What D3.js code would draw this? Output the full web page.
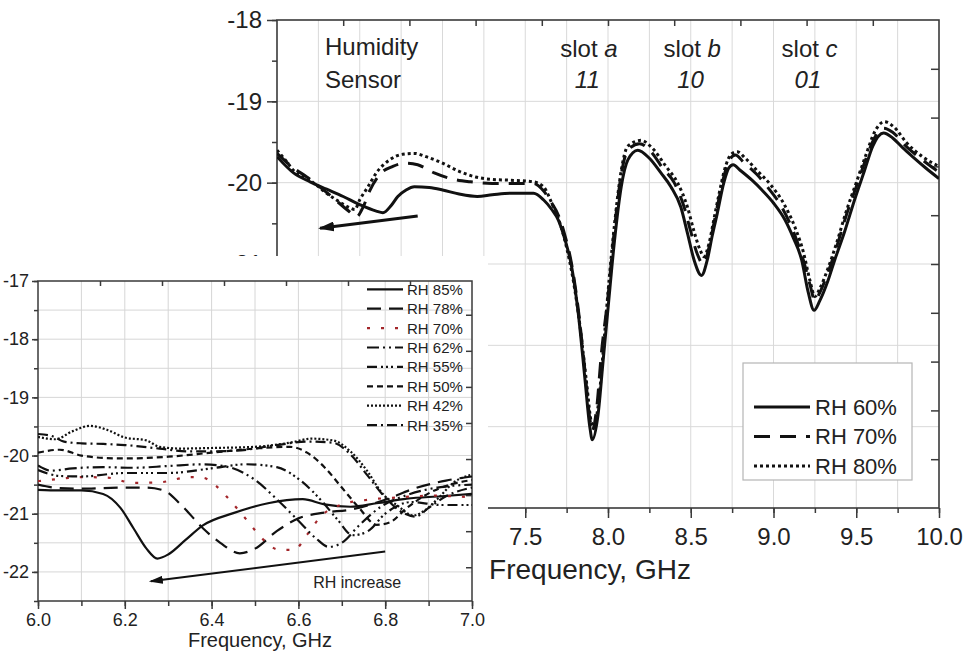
<!DOCTYPE html>
<html>
<head>
<meta charset="utf-8">
<script src="https://cdn.jsdelivr.net/npm/d3@7"></script>
<style>
  body { margin: 0; background: #fff; }
  svg { display: block; font-family: "Liberation Sans", Arial, sans-serif; }
</style>
</head>
<body>
<svg id="chart" width="969" height="657"></svg>
<script>
// ---- main chart data (frequency GHz, S21 dB) ----
const rh60 = [[6.0,-19.68],[6.1,-19.88],[6.2,-19.99],[6.3,-20.08],[6.4,-20.17],[6.5,-20.27],[6.6,-20.35],[6.64,-20.37],[6.69,-20.28],[6.73,-20.17],[6.78,-20.09],[6.83,-20.05],[6.92,-20.06],[7.0,-20.09],[7.1,-20.14],[7.21,-20.17],[7.3,-20.15],[7.41,-20.13],[7.55,-20.13],[7.61,-20.21],[7.66,-20.33],[7.70,-20.46],[7.74,-20.70],[7.78,-21.03],[7.82,-21.6],[7.86,-22.4],[7.89,-23.0],[7.905,-23.16],[7.94,-22.85],[7.97,-22.2],[8.0,-21.55],[8.04,-20.7],[8.08,-20.05],[8.12,-19.72],[8.18,-19.60],[8.25,-19.7],[8.32,-19.88],[8.38,-20.05],[8.44,-20.3],[8.48,-20.62],[8.52,-20.95],[8.565,-21.14],[8.6,-20.95],[8.63,-20.65],[8.66,-20.38],[8.70,-20.0],[8.73,-19.82],[8.756,-19.78],[8.8,-19.85],[8.87,-19.97],[8.93,-20.09],[9.0,-20.25],[9.07,-20.46],[9.12,-20.68],[9.17,-20.95],[9.21,-21.35],[9.245,-21.57],[9.28,-21.45],[9.33,-21.2],[9.37,-20.95],[9.43,-20.6],[9.49,-20.21],[9.55,-19.85],[9.6,-19.55],[9.665,-19.39],[9.72,-19.45],[9.78,-19.57],[9.84,-19.68],[9.92,-19.82],[10.0,-19.95]];
const rh70 = [[6.0,-19.64],[6.1,-19.82],[6.18,-19.93],[6.3,-20.12],[6.44,-20.36],[6.48,-20.42],[6.52,-20.3],[6.56,-20.1],[6.62,-19.9],[6.7,-19.8],[6.78,-19.76],[6.85,-19.78],[6.95,-19.88],[7.05,-19.95],[7.17,-19.99],[7.3,-20.01],[7.45,-20.01],[7.55,-20.01],[7.61,-20.1],[7.66,-20.25],[7.70,-20.4],[7.74,-20.65],[7.78,-21.0],[7.82,-21.55],[7.86,-22.3],[7.89,-22.9],[7.905,-23.05],[7.93,-22.8],[7.96,-22.1],[8.0,-21.4],[8.04,-20.55],[8.08,-19.9],[8.12,-19.6],[8.19,-19.52],[8.26,-19.62],[8.33,-19.82],[8.4,-20.0],[8.46,-20.3],[8.5,-20.6],[8.54,-20.88],[8.575,-21.0],[8.61,-20.8],[8.64,-20.5],[8.67,-20.2],[8.71,-19.85],[8.74,-19.7],[8.77,-19.66],[8.82,-19.75],[8.9,-19.9],[8.97,-20.07],[9.05,-20.3],[9.12,-20.6],[9.18,-20.95],[9.22,-21.25],[9.25,-21.45],[9.28,-21.35],[9.33,-21.1],[9.38,-20.8],[9.44,-20.4],[9.5,-20.05],[9.56,-19.7],[9.61,-19.45],[9.665,-19.33],[9.72,-19.38],[9.8,-19.55],[9.9,-19.72],[10.0,-19.87]];
const rh80 = [[6.0,-19.60],[6.05,-19.72],[6.1,-19.85],[6.2,-19.97],[6.3,-20.13],[6.38,-20.24],[6.44,-20.31],[6.47,-20.33],[6.5,-20.21],[6.55,-20.05],[6.6,-19.88],[6.68,-19.72],[6.76,-19.65],[6.83,-19.64],[6.9,-19.68],[7.0,-19.76],[7.1,-19.86],[7.2,-19.93],[7.3,-19.96],[7.41,-19.97],[7.55,-19.99],[7.61,-20.05],[7.67,-20.3],[7.71,-20.5],[7.75,-20.8],[7.79,-21.2],[7.83,-21.75],[7.87,-22.45],[7.9,-22.95],[7.915,-23.0],[7.94,-22.75],[7.97,-22.1],[8.0,-21.35],[8.04,-20.5],[8.08,-19.85],[8.12,-19.55],[8.2,-19.48],[8.27,-19.58],[8.35,-19.8],[8.42,-20.0],[8.48,-20.3],[8.52,-20.6],[8.555,-20.82],[8.58,-20.91],[8.61,-20.75],[8.64,-20.45],[8.67,-20.15],[8.71,-19.8],[8.745,-19.65],[8.78,-19.62],[8.83,-19.7],[8.9,-19.85],[8.98,-20.02],[9.06,-20.25],[9.13,-20.55],[9.18,-20.85],[9.22,-21.2],[9.25,-21.40],[9.28,-21.3],[9.33,-21.05],[9.38,-20.75],[9.44,-20.35],[9.5,-20.0],[9.56,-19.65],[9.61,-19.38],[9.67,-19.25],[9.73,-19.32],[9.8,-19.5],[9.9,-19.68],[10.0,-19.80]];
const mainNames = ["RH 60%", "RH 70%", "RH 80%"];
const slotLabels = [["slot ", "a", "11", 7.885], ["slot ", "b", "10", 8.509], ["slot ", "c", "01", 9.218]];

// ---- inset data ----
const ins85 = [[6.0,-20.59],[6.05,-20.6],[6.1,-20.6],[6.15,-20.66],[6.19,-20.9],[6.22,-21.25],[6.25,-21.6],[6.275,-21.77],[6.3,-21.7],[6.34,-21.45],[6.38,-21.2],[6.45,-20.99],[6.53,-20.82],[6.61,-20.75],[6.66,-20.84],[6.72,-20.88],[6.78,-20.82],[6.85,-20.74],[6.93,-20.7],[7.0,-20.66]];
const ins78 = [[6.0,-20.5],[6.05,-20.56],[6.1,-20.57],[6.15,-20.56],[6.2,-20.55],[6.25,-20.55],[6.29,-20.6],[6.33,-20.85],[6.38,-21.25],[6.42,-21.5],[6.465,-21.68],[6.5,-21.6],[6.55,-21.3],[6.6,-21.08],[6.66,-20.98],[6.72,-20.93],[6.8,-20.76],[6.87,-20.56],[6.94,-20.43],[7.0,-20.36]];
const ins70 = [[6.0,-20.44],[6.05,-20.4],[6.1,-20.37],[6.16,-20.38],[6.22,-20.47],[6.28,-20.46],[6.35,-20.37],[6.38,-20.38],[6.41,-20.52],[6.44,-20.75],[6.48,-21.1],[6.52,-21.45],[6.555,-21.62],[6.59,-21.62],[6.62,-21.36],[6.65,-21.06],[6.7,-20.84],[6.76,-20.76],[6.83,-20.72],[6.91,-20.69],[7.0,-20.72]];
const ins62 = [[6.0,-20.17],[6.03,-20.26],[6.08,-20.22],[6.15,-20.2],[6.22,-20.21],[6.3,-20.18],[6.38,-20.15],[6.44,-20.2],[6.5,-20.42],[6.55,-20.75],[6.6,-21.12],[6.64,-21.42],[6.67,-21.57],[6.7,-21.5],[6.74,-21.2],[6.79,-20.88],[6.85,-20.68],[6.92,-20.55],[7.0,-20.5]];
const ins55 = [[6.0,-20.25],[6.05,-20.35],[6.1,-20.36],[6.2,-20.3],[6.3,-20.3],[6.4,-20.22],[6.48,-20.15],[6.55,-20.2],[6.6,-20.4],[6.65,-20.75],[6.69,-21.1],[6.725,-21.37],[6.76,-21.3],[6.8,-21.0],[6.86,-20.8],[6.93,-20.85],[7.0,-20.85]];
const ins50 = [[6.0,-19.95],[6.05,-19.9],[6.1,-20.0],[6.15,-20.04],[6.2,-20.05],[6.3,-20.02],[6.4,-19.95],[6.5,-19.88],[6.58,-19.85],[6.62,-19.95],[6.66,-20.2],[6.7,-20.55],[6.74,-20.9],[6.78,-21.19],[6.81,-21.15],[6.85,-20.9],[6.9,-20.65],[6.95,-20.5],[7.0,-20.42]];
const ins42 = [[6.0,-19.68],[6.04,-19.72],[6.08,-19.58],[6.12,-19.49],[6.16,-19.56],[6.2,-19.69],[6.25,-19.74],[6.28,-19.85],[6.33,-19.88],[6.4,-19.87],[6.5,-19.85],[6.58,-19.78],[6.63,-19.71],[6.68,-19.74],[6.72,-19.93],[6.76,-20.28],[6.79,-20.62],[6.83,-20.87],[6.865,-21.03],[6.89,-20.95],[6.92,-20.75],[6.96,-20.45],[7.0,-20.33]];
const ins35 = [[6.0,-19.63],[6.03,-19.66],[6.06,-19.76],[6.1,-19.79],[6.15,-19.8],[6.2,-19.82],[6.28,-19.88],[6.35,-19.93],[6.45,-19.92],[6.55,-19.82],[6.62,-19.76],[6.68,-19.78],[6.72,-19.98],[6.76,-20.35],[6.8,-20.72],[6.84,-20.98],[6.87,-21.05],[6.9,-20.9],[6.94,-20.7],[7.0,-20.55]];
const insNames = ["RH 85%", "RH 78%", "RH 70%", "RH 62%", "RH 55%", "RH 50%", "RH 42%", "RH 35%"];

const svg = d3.select("#chart");
const txt = "#222";
const plain = d => String(d);           // keep ASCII hyphen-minus like the original
const oneDec = d => d.toFixed(1);

// ============ main chart ============
const M = {left: 277, right: 939, top: 20, bottom: 508};
const x = d3.scaleLinear().domain([6, 10]).range([M.left, M.right]);
const y = d3.scaleLinear().domain([-24, -18]).range([M.bottom, M.top]);

const defs = svg.append("defs");
defs.append("clipPath").attr("id", "clipMain")
  .append("rect").attr("x", M.left).attr("y", M.top)
  .attr("width", M.right - M.left).attr("height", M.bottom - M.top);

const grid = svg.append("g").attr("stroke", "#d9d9d9").attr("stroke-width", 1);
grid.selectAll(".vx").data(d3.range(6.25, 9.9, 0.25)).join("line")
  .attr("x1", d => x(d)).attr("x2", d => x(d)).attr("y1", M.top).attr("y2", M.bottom);
grid.selectAll(".hy").data(d3.range(-23, -18, 1)).join("line")
  .attr("y1", d => y(d)).attr("y2", d => y(d)).attr("x1", M.left).attr("x2", M.right);

// axes
const axisCol = "#3a3a3a";
function styleAxis(g, fs) {
  g.select(".domain").remove();
  g.selectAll("line").attr("stroke", axisCol).attr("stroke-width", 1.5);
  g.selectAll("text").attr("fill", txt).attr("font-size", fs);
}
svg.append("g").attr("transform", `translate(0,${M.bottom})`)
  .call(d3.axisBottom(x).tickValues(d3.range(6, 10.01, 0.25)).tickSize(5).tickFormat(""))
  .call(g => styleAxis(g, 0));
svg.append("g").attr("transform", `translate(0,${M.bottom})`)
  .call(d3.axisBottom(x).tickValues(d3.range(6, 10.01, 0.5)).tickSize(10).tickPadding(10).tickFormat(oneDec))
  .call(g => styleAxis(g, 24));
svg.append("g").attr("transform", `translate(${M.left},0)`)
  .call(d3.axisLeft(y).tickValues(d3.range(-24, -17.9, 0.5)).tickSize(5).tickFormat(""))
  .call(g => styleAxis(g, 0));
svg.append("g").attr("transform", `translate(${M.left},0)`)
  .call(d3.axisLeft(y).tickValues(d3.range(-24, -17.9, 1)).tickSize(10).tickPadding(5).tickFormat(plain))
  .call(g => styleAxis(g, 24));
// mirrored ticks top / right
svg.append("g").attr("transform", `translate(0,${M.top})`)
  .call(d3.axisBottom(x).tickValues(d3.range(6.4, 9.9, 0.4)).tickSize(6).tickFormat(""))
  .call(g => styleAxis(g, 0));
svg.append("g").attr("transform", `translate(${M.right},0)`)
  .call(d3.axisLeft(y).tickValues(d3.range(-18.6, -23.9, -0.6)).tickSize(8).tickFormat(""))
  .call(g => styleAxis(g, 0));
svg.append("rect").attr("x", M.left).attr("y", M.top)
  .attr("width", M.right - M.left).attr("height", M.bottom - M.top)
  .attr("fill", "none").attr("stroke", axisCol).attr("stroke-width", 1.6);

const lineMain = d3.line().x(d => x(d[0])).y(d => y(d[1])).curve(d3.curveMonotoneX);
const mainSeries = [
  {data: rh60, dash: null},
  {data: rh70, dash: "16,10"},
  {data: rh80, dash: "3,3"}
];
svg.append("g").attr("clip-path", "url(#clipMain)")
  .selectAll("path").data(mainSeries).join("path")
  .attr("d", d => lineMain(d.data))
  .attr("fill", "none").attr("stroke", "#111").attr("stroke-width", 3)
  .attr("stroke-dasharray", d => d.dash);

// annotations
svg.append("text").attr("x", x(6.29)).attr("y", y(-18.43)).attr("font-size", 24).attr("fill", txt).text("Humidity");
svg.append("text").attr("x", x(6.29)).attr("y", y(-18.84)).attr("font-size", 24).attr("fill", txt).text("Sensor");
slotLabels.forEach(s => {
  const t = svg.append("text").attr("x", x(s[3])).attr("y", y(-18.45))
    .attr("text-anchor", "middle").attr("font-size", 24).attr("fill", txt);
  t.append("tspan").text(s[0]);
  t.append("tspan").attr("font-style", "italic").text(s[1]);
  svg.append("text").attr("x", x(s[3] - 0.01)).attr("y", y(-18.84))
    .attr("text-anchor", "middle").attr("font-size", 24).attr("font-style", "italic")
    .attr("fill", txt).text(s[2]);
});

// arrow heads: tip at +x (direction of travel)
defs.append("marker").attr("id", "headBig").attr("viewBox", "0 0 16 10")
  .attr("refX", 14).attr("refY", 5).attr("markerWidth", 16).attr("markerHeight", 10)
  .attr("markerUnits", "userSpaceOnUse").attr("orient", "auto")
  .append("path").attr("d", "M0,0 L16,5 L0,10 Z").attr("fill", "#111");
defs.append("marker").attr("id", "headSmall").attr("viewBox", "0 0 14 8")
  .attr("refX", 12).attr("refY", 4).attr("markerWidth", 14).attr("markerHeight", 8)
  .attr("markerUnits", "userSpaceOnUse").attr("orient", "auto")
  .append("path").attr("d", "M0,0 L14,4 L0,8 Z").attr("fill", "#111");

svg.append("line").attr("x1", x(6.85)).attr("y1", y(-20.41)).attr("x2", x(6.26)).attr("y2", y(-20.56))
  .attr("stroke", "#111").attr("stroke-width", 3).attr("marker-end", "url(#headBig)");

// legend (main)
const lg = svg.append("g").attr("transform", "translate(743,363)");
lg.append("rect").attr("width", 169).attr("height", 117).attr("fill", "#fff").attr("stroke", "#b5b5b5").attr("stroke-width", 1.2);
mainSeries.forEach((s, i) => {
  const yy = 44 + i * 29.5;
  lg.append("line").attr("x1", 11).attr("x2", 67).attr("y1", yy).attr("y2", yy)
    .attr("stroke", "#111").attr("stroke-width", 3).attr("stroke-dasharray", s.dash);
  lg.append("text").attr("x", 72).attr("y", yy).attr("dy", "0.36em").attr("font-size", 22)
    .attr("fill", txt).text(mainNames[i]);
});

svg.append("text").attr("x", 590).attr("y", 579).attr("text-anchor", "middle")
  .attr("font-size", 28).attr("fill", txt).text("Frequency, GHz");

// ============ inset chart ============
const inset = svg.append("g");
inset.append("rect").attr("x", 0).attr("y", 256).attr("width", 488).attr("height", 401).attr("fill", "#fff");
const I = {left: 38, right: 472, top: 281, bottom: 601};
const xi = d3.scaleLinear().domain([6, 7]).range([I.left, I.right]);
const yi = d3.scaleLinear().domain([-22.5, -17]).range([I.bottom, I.top]);

defs.append("clipPath").attr("id", "clipInset")
  .append("rect").attr("x", I.left).attr("y", I.top)
  .attr("width", I.right - I.left).attr("height", I.bottom - I.top);

const gi = inset.append("g").attr("stroke", "#d6d6d6").attr("stroke-width", 1);
gi.selectAll(".v").data(d3.range(6.1, 6.95, 0.1)).join("line")
  .attr("x1", d => xi(d)).attr("x2", d => xi(d)).attr("y1", I.top).attr("y2", I.bottom);
gi.selectAll(".h").data(d3.range(-22, -17.2, 0.5)).join("line")
  .attr("y1", d => yi(d)).attr("y2", d => yi(d)).attr("x1", I.left).attr("x2", I.right);

inset.append("g").attr("transform", `translate(0,${I.bottom})`)
  .call(d3.axisBottom(xi).tickValues(d3.range(6, 7.01, 0.1)).tickSize(5).tickFormat(""))
  .call(g => styleAxis(g, 0));
inset.append("g").attr("transform", `translate(0,${I.bottom})`)
  .call(d3.axisBottom(xi).tickValues(d3.range(6, 7.01, 0.2)).tickSize(8).tickPadding(4).tickFormat(oneDec))
  .call(g => styleAxis(g, 18));
inset.append("g").attr("transform", `translate(${I.left},0)`)
  .call(d3.axisLeft(yi).tickValues(d3.range(-22.5, -16.9, 0.5)).tickSize(4).tickFormat(""))
  .call(g => styleAxis(g, 0));
inset.append("g").attr("transform", `translate(${I.left},0)`)
  .call(d3.axisLeft(yi).tickValues(d3.range(-22, -16.9, 1)).tickSize(6).tickPadding(3).tickFormat(plain))
  .call(g => styleAxis(g, 18));
inset.append("g").attr("transform", `translate(0,${I.top})`)
  .call(d3.axisBottom(xi).tickValues(d3.range(1, 7).map(i => 6 + i / 7)).tickSize(5).tickFormat(""))
  .call(g => styleAxis(g, 0));
inset.append("g").attr("transform", `translate(${I.right},0)`)
  .call(d3.axisLeft(yi).tickValues(d3.range(-17.58, -22.2, -0.62)).tickSize(6).tickFormat(""))
  .call(g => styleAxis(g, 0));
inset.append("rect").attr("x", I.left).attr("y", I.top)
  .attr("width", I.right - I.left).attr("height", I.bottom - I.top)
  .attr("fill", "none").attr("stroke", axisCol).attr("stroke-width", 1.5);

const insSeries = [
  {data: ins85, dash: null, color: "#111"},
  {data: ins78, dash: "14,8", color: "#111"},
  {data: ins70, dash: "3,11", color: "#a3262a"},
  {data: ins62, dash: "12,4,2,4,2,4", color: "#111"},
  {data: ins55, dash: "10,4,2,3,2,3,2,4", color: "#111"},
  {data: ins50, dash: "6,4", color: "#111"},
  {data: ins42, dash: "2,2", color: "#111"},
  {data: ins35, dash: "10,4,2,4", color: "#111"}
];
const lineIns = d3.line().x(d => xi(d[0])).y(d => yi(d[1])).curve(d3.curveMonotoneX);
inset.append("g").attr("clip-path", "url(#clipInset)")
  .selectAll("path").data(insSeries).join("path")
  .attr("d", d => lineIns(d.data))
  .attr("fill", "none").attr("stroke", d => d.color).attr("stroke-width", 2.2)
  .attr("stroke-dasharray", d => d.dash);

// inset legend
insSeries.forEach((s, i) => {
  const yy = 289.3 + i * 19.4;
  inset.append("line").attr("x1", 367).attr("x2", 403).attr("y1", yy).attr("y2", yy)
    .attr("stroke", s.color).attr("stroke-width", 2.2).attr("stroke-dasharray", s.dash);
  inset.append("text").attr("x", 407).attr("y", yy).attr("dy", "0.36em").attr("font-size", 15)
    .attr("fill", txt).text(insNames[i]);
});

inset.append("line").attr("x1", xi(6.8)).attr("y1", yi(-21.65)).attr("x2", xi(6.26)).attr("y2", yi(-22.16))
  .attr("stroke", "#111").attr("stroke-width", 2).attr("marker-end", "url(#headSmall)");
inset.append("text").attr("x", xi(6.634)).attr("y", yi(-22.17)).attr("dy", "0.36em")
  .attr("font-size", 16).attr("fill", txt).text("RH increase");

inset.append("text").attr("x", 260).attr("y", 647).attr("text-anchor", "middle")
  .attr("font-size", 20).attr("fill", txt).text("Frequency, GHz");
</script>
</body>
</html>
